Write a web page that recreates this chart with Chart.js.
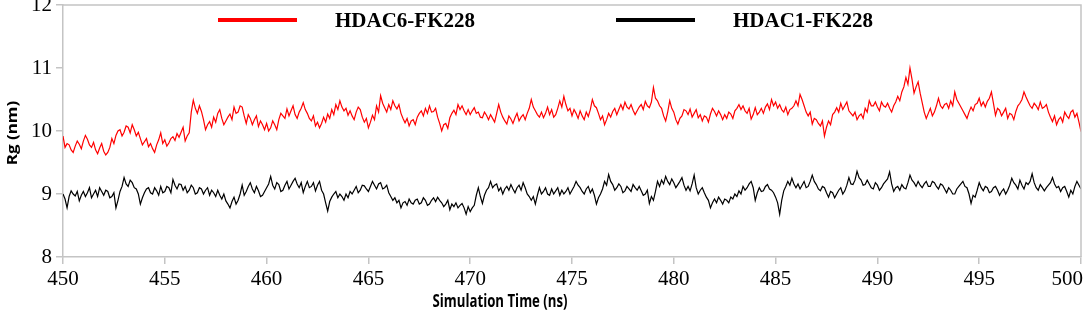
<!DOCTYPE html>
<html>
<head>
<meta charset="utf-8">
<script src="https://cdn.jsdelivr.net/npm/chart.js@4.4.1/dist/chart.umd.min.js"></script>
<style>
  body { margin: 0; background: #fff; }
  #wrap { width: 1084px; height: 314px; }
</style>
</head>
<body>
<div id="wrap"><canvas id="rgChart" width="1084" height="314"></canvas></div>
<script>
// Rg of the two complexes, one value every 0.1 ns from 450 ns (one row = 1 ns)
const timeStart = 450;
const timeStep = 0.1;
const seriesNames = ["HDAC6-FK228", "HDAC1-FK228"];
const seriesColors = ["#ff0000", "#000000"];
const xTicks = [450, 455, 460, 465, 470, 475, 480, 485, 490, 495, 500];
const yTicks = [8, 9, 10, 11, 12];

const hdac6Rg = [
  9.92, 9.74, 9.80, 9.78, 9.70, 9.66, 9.76, 9.84, 9.79, 9.72,
  9.84, 9.93, 9.87, 9.78, 9.74, 9.82, 9.70, 9.64, 9.73, 9.80,
  9.68, 9.62, 9.66, 9.74, 9.88, 9.80, 9.93, 10.00, 10.02, 9.92,
  9.98, 10.08, 10.06, 9.97, 10.10, 10.02, 9.92, 9.98, 9.88, 9.78,
  9.83, 9.88, 9.75, 9.80, 9.72, 9.66, 9.78, 9.86, 9.97, 9.80,
  9.86, 9.76, 9.81, 9.88, 9.91, 9.85, 9.96, 9.90, 9.98, 10.06,
  9.84, 9.92, 9.97, 10.30, 10.49, 10.36, 10.28, 10.40, 10.31, 10.18,
  10.02, 10.10, 10.15, 10.06, 10.22, 10.14, 10.28, 10.34, 10.20, 10.10,
  10.16, 10.22, 10.27, 10.18, 10.38, 10.28, 10.30, 10.40, 10.38, 10.24,
  10.12, 10.26, 10.20, 10.10, 10.18, 10.24, 10.07, 10.16, 10.10, 10.02,
  10.12, 10.00, 10.05, 10.16, 10.10, 10.02, 10.18, 10.28, 10.24, 10.20,
  10.35, 10.24, 10.32, 10.40, 10.26, 10.20, 10.30, 10.36, 10.45, 10.34,
  10.28, 10.20, 10.16, 10.24, 10.08, 10.14, 10.05, 10.12, 10.22, 10.14,
  10.27, 10.20, 10.34, 10.26, 10.42, 10.34, 10.48, 10.38, 10.32, 10.36,
  10.25, 10.32, 10.24, 10.18, 10.30, 10.38, 10.34, 10.22, 10.14, 10.20,
  10.05, 10.14, 10.25, 10.18, 10.40, 10.30, 10.56, 10.44, 10.37, 10.30,
  10.42, 10.34, 10.48, 10.40, 10.35, 10.42, 10.28, 10.20, 10.13, 10.20,
  10.08, 10.16, 10.18, 10.10, 10.22, 10.28, 10.32, 10.24, 10.36, 10.28,
  10.40, 10.30, 10.31, 10.36, 10.22, 10.12, 10.00, 10.10, 10.12, 10.04,
  10.21, 10.28, 10.33, 10.26, 10.42, 10.34, 10.40, 10.32, 10.26, 10.34,
  10.26, 10.32, 10.37, 10.28, 10.30, 10.22, 10.21, 10.30, 10.25, 10.18,
  10.26, 10.20, 10.14, 10.28, 10.42, 10.30, 10.22, 10.16, 10.11, 10.24,
  10.19, 10.12, 10.21, 10.28, 10.16, 10.22, 10.26, 10.18, 10.28, 10.36,
  10.50, 10.38, 10.32, 10.26, 10.22, 10.30, 10.21, 10.28, 10.38, 10.26,
  10.34, 10.22, 10.26, 10.36, 10.48, 10.38, 10.55, 10.42, 10.32, 10.36,
  10.24, 10.34, 10.28, 10.20, 10.32, 10.24, 10.18, 10.30, 10.23, 10.34,
  10.50, 10.40, 10.37, 10.28, 10.18, 10.24, 10.10, 10.18, 10.28, 10.22,
  10.31, 10.36, 10.26, 10.34, 10.42, 10.34, 10.46, 10.38, 10.35, 10.42,
  10.33, 10.26, 10.32, 10.38, 10.42, 10.34, 10.47, 10.40, 10.37, 10.46,
  10.69, 10.52, 10.48, 10.40, 10.36, 10.24, 10.16, 10.30, 10.48, 10.36,
  10.30, 10.18, 10.11, 10.20, 10.24, 10.34, 10.32, 10.26, 10.35, 10.22,
  10.28, 10.34, 10.21, 10.26, 10.16, 10.24, 10.22, 10.14, 10.27, 10.36,
  10.31, 10.24, 10.32, 10.26, 10.18, 10.26, 10.20, 10.30, 10.27, 10.20,
  10.32, 10.36, 10.42, 10.34, 10.40, 10.32, 10.28, 10.36, 10.19, 10.26,
  10.37, 10.26, 10.30, 10.36, 10.28, 10.38, 10.43, 10.34, 10.50, 10.40,
  10.46, 10.36, 10.42, 10.34, 10.30, 10.38, 10.26, 10.34, 10.36, 10.40,
  10.48, 10.40, 10.58, 10.50, 10.40, 10.30, 10.24, 10.30, 10.11, 10.20,
  10.18, 10.12, 10.08, 10.16, 9.92, 10.06, 10.16, 10.10, 10.26, 10.30,
  10.37, 10.30, 10.44, 10.34, 10.40, 10.46, 10.32, 10.28, 10.24, 10.30,
  10.18, 10.24, 10.27, 10.20, 10.36, 10.30, 10.48, 10.40, 10.40, 10.46,
  10.38, 10.32, 10.46, 10.40, 10.38, 10.44, 10.36, 10.30, 10.40, 10.46,
  10.55, 10.48, 10.62, 10.70, 10.85, 10.74, 11.00, 10.82, 10.60, 10.70,
  10.78, 10.60, 10.45, 10.30, 10.20, 10.28, 10.36, 10.24, 10.30, 10.40,
  10.52, 10.40, 10.36, 10.42, 10.44, 10.36, 10.48, 10.40, 10.62, 10.50,
  10.44, 10.38, 10.32, 10.26, 10.20, 10.30, 10.38, 10.32, 10.42, 10.44,
  10.52, 10.40, 10.46, 10.38, 10.47, 10.52, 10.62, 10.44, 10.25, 10.36,
  10.33, 10.24, 10.30, 10.36, 10.20, 10.28, 10.26, 10.18, 10.31, 10.40,
  10.44, 10.50, 10.62, 10.54, 10.47, 10.40, 10.36, 10.44, 10.40, 10.34,
  10.46, 10.36, 10.38, 10.42, 10.30, 10.22, 10.15, 10.24, 10.10, 10.18,
  10.22, 10.14, 10.30, 10.24, 10.20, 10.30, 10.33, 10.22, 10.28, 10.14,
  9.99
];

const hdac1Rg = [
  9.00, 8.92, 8.78, 8.96, 9.05, 9.00, 8.97, 9.04, 8.89, 8.98,
  9.04, 8.96, 9.02, 9.10, 8.94, 9.00, 9.06, 8.96, 9.10, 9.04,
  8.98, 9.06, 9.04, 8.94, 8.96, 9.02, 8.78, 8.90, 9.04, 9.12,
  9.26, 9.16, 9.12, 9.22, 9.18, 9.10, 9.08, 9.00, 8.84, 8.94,
  9.02, 9.08, 9.10, 9.02, 9.00, 9.10, 9.05, 8.98, 9.12, 9.02,
  9.04, 9.12, 9.10, 9.02, 9.23, 9.14, 9.08, 9.16, 9.15, 9.06,
  9.12, 9.02, 9.06, 9.14, 9.10, 9.00, 9.02, 9.10, 9.08, 9.00,
  9.06, 9.10, 8.98, 9.06, 9.02, 8.96, 9.06, 8.98, 8.92, 9.00,
  8.89, 8.84, 8.78, 8.88, 8.95, 8.84, 8.90, 9.00, 9.14, 8.98,
  9.04, 9.12, 9.18, 9.08, 9.02, 9.12, 9.05, 8.96, 8.98, 9.04,
  9.10, 9.16, 9.28, 9.14, 9.08, 9.18, 9.15, 9.04, 9.06, 9.14,
  9.20, 9.08, 9.14, 9.20, 9.25, 9.16, 9.10, 9.18, 9.02, 9.12,
  9.20, 9.10, 9.12, 9.18, 9.05, 9.14, 9.20, 9.06, 9.00, 8.86,
  8.73, 8.88, 8.95, 9.00, 9.04, 8.94, 9.00, 8.96, 8.90, 9.00,
  8.94, 9.04, 9.00, 9.06, 9.12, 9.02, 9.06, 9.14, 9.13, 9.08,
  9.04, 9.12, 9.20, 9.14, 9.08, 9.16, 9.18, 9.08, 9.10, 9.14,
  9.02, 8.96, 8.90, 8.94, 8.86, 8.90, 8.78, 8.86, 8.88, 8.82,
  8.92, 8.86, 8.84, 8.90, 8.92, 8.84, 8.86, 8.94, 8.90, 8.82,
  8.84, 8.90, 8.94, 8.88, 8.95, 8.90, 8.86, 8.80, 8.84, 8.90,
  8.75, 8.84, 8.80, 8.86, 8.78, 8.82, 8.85, 8.78, 8.68, 8.80,
  8.72, 8.78, 8.82, 8.98, 9.10, 8.96, 8.85, 8.98, 9.06, 9.10,
  9.20, 9.10, 9.14, 9.16, 9.05, 9.10, 9.00, 9.08, 9.12, 9.06,
  9.15, 9.08, 9.02, 9.10, 9.14, 9.06, 9.18, 9.10, 9.00, 8.96,
  8.90, 8.96, 8.84, 8.98, 9.10, 9.00, 9.04, 9.10, 9.00, 8.98,
  9.08, 9.00, 9.05, 9.10, 8.98, 9.06, 9.00, 9.04, 9.10, 9.00,
  9.06, 9.12, 9.20, 9.14, 9.10, 9.04, 9.00, 9.08, 9.12, 9.02,
  9.08, 8.98, 8.84, 8.94, 9.00, 9.08, 9.20, 9.14, 9.31, 9.20,
  9.15, 9.06, 9.10, 9.16, 9.12, 9.02, 9.05, 9.12, 9.08, 9.04,
  9.15, 9.10, 9.06, 9.12, 9.05, 8.98, 9.00, 9.06, 8.85, 8.96,
  8.90, 9.04, 9.20, 9.12, 9.22, 9.16, 9.28, 9.20, 9.15, 9.24,
  9.18, 9.10, 9.15, 9.20, 9.26, 9.14, 9.06, 9.12, 9.05, 9.16,
  9.30, 9.10, 9.00, 9.06, 9.10, 9.02, 8.95, 8.90, 8.78, 8.86,
  8.92, 8.86, 8.95, 8.90, 8.84, 8.92, 8.90, 8.86, 8.95, 8.92,
  9.00, 8.96, 9.05, 9.00, 9.12, 9.06, 9.10, 9.16, 9.20, 9.10,
  8.90, 9.02, 9.10, 9.04, 9.05, 9.12, 9.15, 9.08, 9.06, 9.02,
  8.95, 8.86, 8.68, 8.90, 9.05, 9.12, 9.20, 9.14, 9.25, 9.16,
  9.10, 9.16, 9.08, 9.14, 9.20, 9.10, 9.12, 9.20, 9.30, 9.20,
  9.15, 9.08, 9.05, 9.12, 9.10, 9.02, 8.95, 9.04, 9.02, 8.94,
  9.00, 9.06, 9.10, 9.00, 9.05, 9.14, 9.26, 9.16, 9.15, 9.22,
  9.36, 9.26, 9.22, 9.14, 9.15, 9.22, 9.16, 9.10, 9.08, 9.18,
  9.14, 9.06, 9.10, 9.16, 9.20, 9.24, 9.35, 9.16, 9.04, 9.10,
  9.12, 9.06, 9.15, 9.10, 9.08, 9.18, 9.30, 9.22, 9.18, 9.12,
  9.20, 9.14, 9.10, 9.16, 9.20, 9.12, 9.12, 9.20, 9.18, 9.12,
  9.08, 9.16, 9.14, 9.08, 9.02, 9.10, 9.06, 9.00, 9.00, 9.08,
  9.12, 9.16, 9.20, 9.12, 9.10, 9.00, 8.85, 8.98, 8.95, 9.06,
  9.18, 9.10, 9.05, 9.12, 9.10, 9.02, 9.04, 9.10, 9.12, 9.06,
  8.98, 9.04, 9.08, 9.00, 9.06, 9.14, 9.25, 9.18, 9.14, 9.08,
  9.22, 9.14, 9.08, 9.18, 9.15, 9.20, 9.32, 9.18, 9.10, 9.06,
  9.15, 9.10, 9.05, 9.10, 9.14, 9.18, 9.26, 9.16, 9.10, 9.12,
  9.04, 9.10, 9.12, 9.04, 8.95, 9.06, 9.00, 9.12, 9.20, 9.14,
  9.08
];

function toPoints(values) {
  return values.map((v, i) => ({ x: timeStart + i * timeStep, y: v }));
}

const axisGrey = "#c4c4c4";

// frame on top/right, x tick labels, custom legend and axis titles
const extras = {
  id: "extras",
  afterDraw(chart) {
    const { ctx, chartArea: a, width } = chart;
    const xScale = chart.scales.x;
    ctx.save();
    ctx.strokeStyle = axisGrey;
    ctx.lineWidth = 1.5;
    ctx.beginPath();
    ctx.moveTo(a.left, a.top);
    ctx.lineTo(a.right, a.top);
    ctx.lineTo(a.right, a.bottom);
    ctx.stroke();

    // x tick labels, last one kept inside the canvas
    ctx.fillStyle = "#000";
    ctx.font = "21px 'Liberation Serif'";
    ctx.textAlign = "center";
    ctx.textBaseline = "middle";
    xTicks.forEach((v) => {
      const label = String(v);
      const w = ctx.measureText(label).width;
      const px = Math.min(xScale.getPixelForValue(v), width - w / 2 - 1);
      ctx.fillText(label, px, 279);
    });

    // legend
    const legendX = [218, 616];
    chart.data.datasets.forEach((ds, i) => {
      ctx.strokeStyle = ds.borderColor;
      ctx.lineWidth = 4;
      ctx.beginPath();
      ctx.moveTo(legendX[i], 20);
      ctx.lineTo(legendX[i] + 79, 20);
      ctx.stroke();
      ctx.fillStyle = "#000";
      ctx.font = "bold 21px 'Liberation Serif'";
      ctx.textBaseline = "alphabetic";
      ctx.textAlign = "left";
      ctx.fillText(ds.label, legendX[i] + 117, 27);
    });

    // axis titles
    ctx.fillStyle = "#000";
    ctx.textAlign = "center";
    ctx.textBaseline = "middle";
    ctx.font = "bold 17px 'Open Sans'";
    const xTitle = "Simulation Time (ns)";
    const sx = 135 / ctx.measureText(xTitle).width;
    ctx.save();
    ctx.translate(500, 302);
    ctx.scale(sx, 1);
    ctx.fillText(xTitle, 0, 0);
    ctx.restore();

    ctx.translate(13, 133);
    ctx.rotate(-Math.PI / 2);
    ctx.scale(1, 0.85);
    ctx.fillText("Rg (nm)", 0, 0);
    ctx.restore();
  }
};

const ctx = document.getElementById("rgChart").getContext("2d");
const rgChart = new Chart(ctx, {
  type: "line",
  data: {
    datasets: [
      {
        label: seriesNames[0],
        data: toPoints(hdac6Rg),
        borderColor: seriesColors[0],
        borderWidth: 1.2,
        pointRadius: 0,
        tension: 0,
      },
      {
        label: seriesNames[1],
        data: toPoints(hdac1Rg),
        borderColor: seriesColors[1],
        borderWidth: 1.2,
        pointRadius: 0,
        tension: 0,
      },
    ],
  },
  options: {
    responsive: false,
    animation: false,
    devicePixelRatio: 1,
    layout: { padding: { top: 5, right: 3, left: 0, bottom: 0 } },
    scales: {
      x: {
        type: "linear",
        min: 450,
        max: 500,
        afterBuildTicks: (s) => { s.ticks = xTicks.map((v) => ({ value: v })); },
        afterFit: (s) => {
          s.height = 57;
          s.paddingLeft = 0;
          s.paddingRight = 0;
        },
        grid: { drawOnChartArea: false, drawTicks: true, tickLength: 7, color: axisGrey, lineWidth: 1.5 },
        border: { color: axisGrey, width: 1.5 },
        ticks: { display: false },
      },
      y: {
        min: 8,
        max: 12,
        afterBuildTicks: (s) => { s.ticks = yTicks.map((v) => ({ value: v })); },
        afterFit: (s) => {
          s.width = 63;
          s.paddingTop = 0;
          s.paddingBottom = 0;
        },
        grid: { drawOnChartArea: false, drawTicks: true, tickLength: 7, color: axisGrey, lineWidth: 1.5 },
        border: { color: axisGrey, width: 1.5 },
        ticks: {
          font: { family: "'Liberation Serif'", size: 21 },
          color: "#000",
          padding: 4,
        },
      },
    },
    plugins: {
      legend: { display: false },
      tooltip: { enabled: false },
    },
  },
  plugins: [extras],
});
</script>
</body>
</html>
